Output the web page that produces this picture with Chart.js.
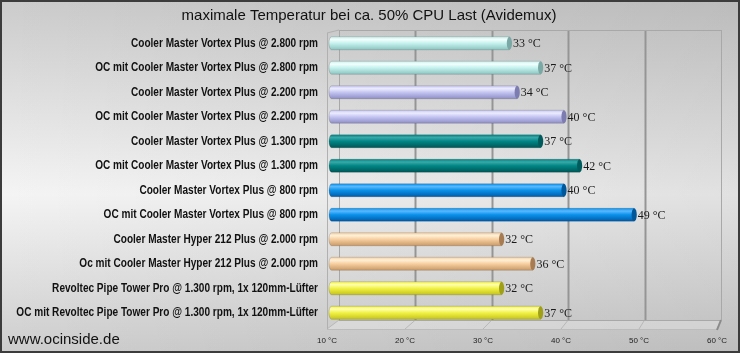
<!DOCTYPE html>
<html><head><meta charset="utf-8">
<script src="https://cdn.jsdelivr.net/npm/chart.js@4.4.1/dist/chart.umd.min.js"></script>
<style>html,body{margin:0;padding:0;background:#fff}#wrap{width:740px;height:353px;position:relative}canvas{display:block}</style>
</head><body><div id="wrap"><canvas id="c" width="740" height="353"></canvas></div>
<script>
const chartTitle = 'maximale Temperatur bei ca. 50% CPU Last (Avidemux)';
const watermark = 'www.ocinside.de';
const categories = [
  'Cooler Master Vortex Plus @ 2.800 rpm',
  'OC mit Cooler Master Vortex Plus @ 2.800 rpm',
  'Cooler Master Vortex Plus @ 2.200 rpm',
  'OC mit Cooler Master Vortex Plus @ 2.200 rpm',
  'Cooler Master Vortex Plus @ 1.300 rpm',
  'OC mit Cooler Master Vortex Plus @ 1.300 rpm',
  'Cooler Master Vortex Plus @ 800 rpm',
  'OC mit Cooler Master Vortex Plus @ 800 rpm',
  'Cooler Master Hyper 212 Plus @ 2.000 rpm',
  'Oc mit Cooler Master Hyper 212 Plus @ 2.000 rpm',
  'Revoltec Pipe Tower Pro @ 1.300 rpm, 1x 120mm-Lüfter',
  'OC mit Revoltec Pipe Tower Pro @ 1.300 rpm, 1x 120mm-Lüfter'
];
const temperatures = [33, 37, 34, 40, 37, 42, 40, 49, 32, 36, 32, 37];
const valueLabels = ['33 °C','37 °C','34 °C','40 °C','37 °C','42 °C','40 °C','49 °C','32 °C','36 °C','32 °C','37 °C'];
const tickValues = [10, 20, 30, 40, 50, 60];
const tickLabels = ['10 °C', '20 °C', '30 °C', '40 °C', '50 °C', '60 °C'];

// colour palette (light, main, dark, cap) per bar
const palette = [
  ['#f2fffd','#c6f2ee','#8cc4c0','#7aa8a4'],
  ['#f2fffd','#c6f2ee','#8cc4c0','#7aa8a4'],
  ['#ececff','#c6c6f2','#8e8ec6','#7c7cb0'],
  ['#ececff','#c6c6f2','#8e8ec6','#7c7cb0'],
  ['#3aa8a8','#008686','#005656','#005c5c'],
  ['#3aa8a8','#008686','#005656','#005c5c'],
  ['#5ab8ff','#0a92ea','#005aa8','#00589a'],
  ['#5ab8ff','#0a92ea','#005aa8','#00589a'],
  ['#fff0d8','#f8cfa0','#c89a68','#a87c52'],
  ['#fff0d8','#f8cfa0','#c89a68','#a87c52'],
  ['#ffffb0','#f2f246','#c2c21c','#a0a018'],
  ['#ffffb0','#f2f246','#c2c21c','#a0a018']
];

const sansFont = "'Liberation Sans',Arial,sans-serif";

const bgPlugin = {
  id: 'bg',
  beforeDraw(chart) {
    const {ctx, width, height} = chart;
    ctx.save();
    let g = ctx.createLinearGradient(0, 0, 0, height);
    g.addColorStop(0, '#cbcbcb');
    g.addColorStop(0.55, '#f4f4f4');
    g.addColorStop(1, '#cdcdcd');
    ctx.fillStyle = g;
    ctx.fillRect(0, 0, width, height);
    g = ctx.createLinearGradient(0, 0, width, 0);
    g.addColorStop(0, 'rgba(0,0,0,0)');
    g.addColorStop(1, 'rgba(0,0,0,0.08)');
    ctx.fillStyle = g;
    ctx.fillRect(0, 0, width, height);
    // title
    ctx.fillStyle = '#111';
    ctx.font = '15px ' + sansFont;
    ctx.textAlign = 'center';
    ctx.textBaseline = 'middle';
    ctx.fillText(chartTitle, 369, 16);
    ctx.restore();
  },
  beforeDatasetsDraw(chart) {
    const {ctx, chartArea: a, scales: {x, y}} = chart;
    const xf = v => x.getPixelForValue(v);
    const x0 = xf(tickValues[0]), x1 = xf(tickValues[tickValues.length - 1]);
    const xb = v => (x0 + 12) + (xf(v) - x0) * ((x1 + 4) - (x0 + 12)) / (x1 - x0);
    const topY = a.top - 1, backBot = a.bottom - 5, frontBot = a.bottom + 4;
    ctx.save();
    // floor
    ctx.fillStyle = 'rgba(255,255,255,0.25)';
    ctx.beginPath();
    ctx.moveTo(xb(10), backBot); ctx.lineTo(xb(60), backBot);
    ctx.lineTo(x1, frontBot); ctx.lineTo(x0, frontBot); ctx.closePath(); ctx.fill();
    // back wall vertical gridlines
    tickValues.forEach((v, i) => {
      const inner = i > 0 && i < tickValues.length - 1;
      ctx.strokeStyle = inner ? '#959595' : '#a8a8a8';
      ctx.lineWidth = inner ? 2 : 1;
      ctx.beginPath();
      ctx.moveTo(Math.round(xb(v)) + 0.5, topY);
      ctx.lineTo(Math.round(xb(v)) + 0.5, backBot);
      ctx.stroke();
      ctx.strokeStyle = '#b8b8b8';
      ctx.lineWidth = 1;
      ctx.beginPath();
      ctx.moveTo(xb(v), backBot);
      ctx.lineTo(xf(v), frontBot);
      ctx.stroke();
    });
    ctx.strokeStyle = '#a8a8a8';
    ctx.lineWidth = 1;
    ctx.beginPath();
    ctx.moveTo(xb(10), topY + 0.5); ctx.lineTo(xb(60), topY + 0.5);
    ctx.moveTo(xb(10), backBot + 0.5); ctx.lineTo(xb(60), backBot + 0.5);
    ctx.stroke();
    // left wall front edge
    ctx.strokeStyle = '#b0b0b0';
    ctx.beginPath();
    ctx.moveTo(x0 + 0.5, a.top + 2); ctx.lineTo(x0 + 0.5, frontBot);
    ctx.moveTo(x0, a.top + 2); ctx.lineTo(xb(10), topY);
    ctx.stroke();
    // front floor edge
    ctx.strokeStyle = '#bcbcbc';
    ctx.beginPath();
    ctx.moveTo(x0, frontBot + 0.5); ctx.lineTo(x1, frontBot + 0.5);
    ctx.stroke();
    ctx.strokeStyle = '#8a8a8a';
    ctx.lineWidth = 2;
    ctx.beginPath();
    ctx.moveTo(xb(60), backBot); ctx.lineTo(x1, frontBot + 1);
    ctx.stroke();

    // category labels (condensed bold)
    ctx.font = 'bold 12px ' + sansFont;
    ctx.fillStyle = '#111';
    ctx.textAlign = 'right';
    ctx.textBaseline = 'middle';
    const sx = 187 / ctx.measureText(categories[0]).width;
    categories.forEach((c, i) => {
      const py = y.getPixelForValue(i);
      ctx.save();
      ctx.translate(a.left - 9, py);
      ctx.scale(sx, 1);
      ctx.fillText(c, 0, 0);
      ctx.restore();
    });
    ctx.restore();
  },
  afterDatasetsDraw(chart) {
    const {ctx} = chart;
    const meta = chart.getDatasetMeta(0);
    const depth = 3;
    ctx.save();
    meta.data.forEach((el, i) => {
      const p = el.getProps(['x', 'y', 'base', 'height'], true);
      const h = p.height, top = p.y - h / 2, rx = 2.6;
      const end = p.x + depth;
      const [light, main, dark, cap] = palette[i];
      const g = ctx.createLinearGradient(0, top, 0, top + h);
      g.addColorStop(0, main);
      g.addColorStop(0.22, light);
      g.addColorStop(0.5, main);
      g.addColorStop(1, dark);
      const left = p.base + 2;
      ctx.fillStyle = g;
      ctx.beginPath();
      ctx.ellipse(left + rx, p.y, rx, h / 2, 0, Math.PI / 2, Math.PI * 1.5);
      ctx.lineTo(end, top);
      ctx.lineTo(end, top + h);
      ctx.closePath();
      ctx.fill();
      ctx.strokeStyle = 'rgba(0,0,0,0.18)';
      ctx.lineWidth = 0.8;
      ctx.stroke();
      // end cap
      ctx.fillStyle = cap;
      ctx.beginPath();
      ctx.ellipse(end, p.y, rx, h / 2, 0, 0, Math.PI * 2);
      ctx.fill();
      // value label
      ctx.fillStyle = '#1a1a1a';
      ctx.font = "12px 'Liberation Serif','Times New Roman',serif";
      ctx.textBaseline = 'middle';
      ctx.textAlign = 'left';
      ctx.fillText(valueLabels[i], end + rx + 1, p.y + 1);
    });
    ctx.restore();
  },
  afterDraw(chart) {
    const {ctx, width, height} = chart;
    ctx.save();
    ctx.fillStyle = '#111';
    ctx.font = '15px ' + sansFont;
    ctx.textBaseline = 'middle';
    ctx.textAlign = 'left';
    ctx.fillText(watermark, 8, 340);
    ctx.strokeStyle = '#3c3c3c';
    ctx.lineWidth = 2;
    ctx.strokeRect(1, 1, width - 2, height - 2);
    ctx.restore();
  }
};

new Chart(document.getElementById('c'), {
  type: 'bar',
  data: {
    labels: categories,
    datasets: [{
      data: temperatures,
      base: 10,
      backgroundColor: 'rgba(0,0,0,0)',
      borderWidth: 0,
      barThickness: 13
    }]
  },
  options: {
    indexAxis: 'y',
    responsive: false,
    animation: false,
    devicePixelRatio: 1,
    layout: {padding: {top: 31, right: 23, bottom: 0, left: 0}},
    plugins: {
      legend: {display: false},
      tooltip: {enabled: false},
      title: {display: false}
    },
    scales: {
      x: {
        type: 'linear',
        min: 10, max: 60,
        afterBuildTicks(s) { s.ticks = tickValues.map(v => ({value: v})); },
        ticks: {
          callback: v => tickLabels[tickValues.indexOf(v)],
          font: {size: 8, family: sansFont},
          color: '#222',
          padding: 11,
          maxRotation: 0
        },
        grid: {display: false, drawTicks: false},
        border: {display: false},
        afterFit(s) { s.height = 28; }
      },
      y: {
        ticks: {display: false},
        grid: {display: false, drawTicks: false},
        border: {display: false},
        afterFit(s) { s.width = 327; }
      }
    }
  },
  plugins: [bgPlugin]
});
</script>
</body></html>
